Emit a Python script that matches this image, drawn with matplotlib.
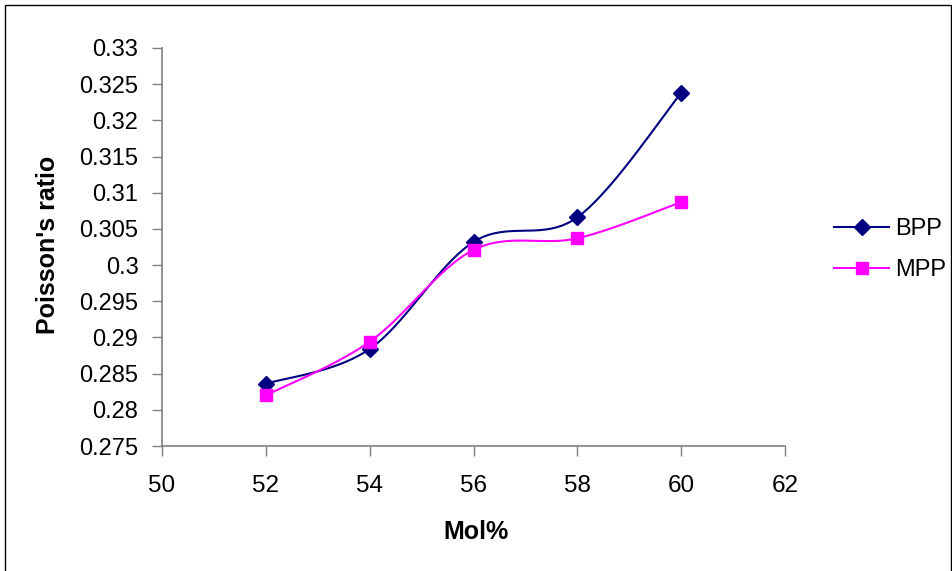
import numpy as np
import matplotlib
matplotlib.use("Agg")
import matplotlib.pyplot as plt
from matplotlib.lines import Line2D
from matplotlib.patches import Rectangle

plt.rcParams['font.family'] = ['Liberation Sans', 'DejaVu Sans']

mol = [52, 54, 56, 58, 60]
bpp = [0.2836, 0.2884, 0.3032, 0.3066, 0.3238]
mpp = [0.2820, 0.2894, 0.3021, 0.3037, 0.3087]
series_names = ["BPP", "MPP"]
x_ticks = [50, 52, 54, 56, 58, 60, 62]
y_ticks = [0.275, 0.28, 0.285, 0.29, 0.295, 0.3, 0.305, 0.31, 0.315, 0.32, 0.325, 0.33]


def smooth(xs, ys, n=40):
    """Cubic Bezier smoothing through every point (Catmull-Rom style)."""
    p = np.column_stack([xs, ys]).astype(float)
    ext = np.vstack([p[0], p, p[-1]])
    out = [p[:1]]
    t = np.linspace(0, 1, n)[1:, None]
    for i in range(1, len(ext) - 2):
        p0, p1, p2, p3 = ext[i - 1], ext[i], ext[i + 1], ext[i + 2]
        c1 = p1 + (p2 - p0) / 6.0
        c2 = p2 - (p3 - p1) / 6.0
        seg = ((1 - t) ** 3) * p1 + 3 * ((1 - t) ** 2) * t * c1 + 3 * (1 - t) * t ** 2 * c2 + t ** 3 * p2
        out.append(seg)
    c = np.vstack(out)
    return c[:, 0], c[:, 1]


fig = plt.figure(figsize=(9.52, 5.71), dpi=100)
W, H = 952, 571
ax = fig.add_axes([162 / W, 1 - 446 / H, (785 - 162) / W, (446 - 48) / H])

# Outer chart border
fig.patches.append(Rectangle((5 / W, -1 / H), (951 - 5) / W, (566 + 1) / H,
                             transform=fig.transFigure, fill=False,
                             edgecolor='black', linewidth=1.0))

colors = ['#000080', '#FF00FF']
markers = ['D', 's']
msizes = [8.5, 8]
for ys, col, mk, ms in zip([bpp, mpp], colors, markers, msizes):
    sx, sy = smooth(mol, ys)
    ax.plot(sx, sy, color=col, linewidth=1.5, zorder=2)
    ax.plot(mol, ys, linestyle='none', marker=mk, markersize=ms,
            color=col, markeredgecolor=col, zorder=3)

ax.set_xlim(50, 62)
ax.set_ylim(0.275, 0.33)
ax.set_xticks(x_ticks)
ax.set_xticklabels([str(v) for v in x_ticks])
ax.set_yticks(y_ticks)
ax.set_yticklabels([f"{v:g}" for v in y_ticks])

for s in ['top', 'right']:
    ax.spines[s].set_visible(False)
for s in ['left', 'bottom']:
    ax.spines[s].set_color('#808080')
    ax.spines[s].set_linewidth(1.2)
ax.tick_params(axis='both', direction='out', length=7, width=1.0,
               color='#808080', labelcolor='black')
ax.tick_params(axis='x', pad=14, labelsize=17.5)
ax.tick_params(axis='y', pad=10, labelsize=17)

ax.set_xlabel("Mol%", fontsize=18, fontweight='bold')
ax.set_ylabel("Poisson's ratio", fontsize=18, fontweight='bold')
ax.xaxis.label.set_va('center')
ax.yaxis.label.set_va('center')
ax.xaxis.set_label_coords(476 / W, 1 - 532 / H, transform=fig.transFigure)
ax.yaxis.set_label_coords(48 / W, 1 - 245 / H, transform=fig.transFigure)

handles = [Line2D([0], [0], color=c, marker=m, markersize=ms, linewidth=1.5,
                  markeredgecolor=c) for c, m, ms in zip(colors, markers, msizes)]
fig.legend(handles, series_names, loc='center left',
           bbox_to_anchor=(834 / W, 1 - 249.5 / H), frameon=False,
           fontsize=17, handlelength=2.35, handletextpad=0.25,
           labelspacing=0.8, borderaxespad=0, borderpad=0)

fig.savefig("out.png", dpi=100)
